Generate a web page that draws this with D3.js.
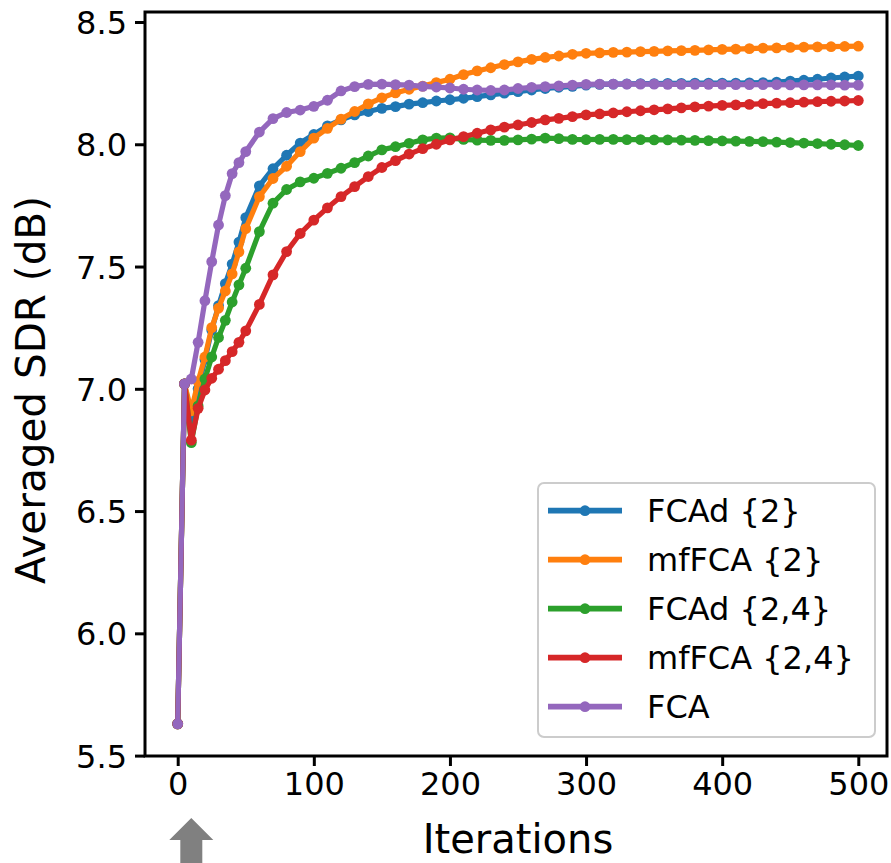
<!DOCTYPE html>
<html><head><meta charset="utf-8">
<script src="https://cdn.jsdelivr.net/npm/d3@7"></script>
<style>body{margin:0;background:#fff}svg{display:block}text{font-family:"DejaVu Sans",sans-serif}</style>
</head><body>
<svg id="c" width="891" height="863"></svg>
<script>
const iterations = [0,5,10,15,20,25,30,35,40,45,50,60,70,80,90,100,110,120,130,140,150,160,170,180,190,200,210,220,230,240,250,260,270,280,290,300,310,320,330,340,350,360,370,380,390,400,410,420,430,440,450,460,470,480,490,500];
const seriesNames = ["FCAd {2}","mfFCA {2}","FCAd {2,4}","mfFCA {2,4}","FCA"];
const fcad2 = [5.63,7.02,6.87,7.0,7.12,7.24,7.34,7.43,7.51,7.60,7.70,7.83,7.90,7.955,8.005,8.04,8.075,8.10,8.12,8.134,8.147,8.154,8.164,8.17,8.177,8.182,8.188,8.195,8.202,8.209,8.215,8.222,8.228,8.233,8.237,8.242,8.245,8.246,8.247,8.248,8.248,8.249,8.249,8.25,8.25,8.25,8.25,8.251,8.252,8.254,8.258,8.262,8.266,8.271,8.275,8.279];
const mffca2 = [5.63,7.02,6.91,7.03,7.13,7.25,7.33,7.40,7.47,7.56,7.655,7.786,7.86,7.91,7.97,8.025,8.065,8.103,8.134,8.165,8.19,8.21,8.225,8.238,8.252,8.266,8.285,8.3,8.313,8.326,8.337,8.347,8.355,8.361,8.368,8.372,8.374,8.376,8.377,8.379,8.38,8.382,8.383,8.384,8.386,8.388,8.389,8.391,8.393,8.394,8.396,8.397,8.398,8.399,8.4,8.401];
const fcad24 = [5.63,7.02,6.78,6.93,7.04,7.13,7.21,7.28,7.355,7.425,7.493,7.643,7.759,7.815,7.846,7.861,7.881,7.902,7.925,7.952,7.977,7.99,8.004,8.018,8.025,8.026,8.02,8.017,8.016,8.016,8.018,8.021,8.025,8.023,8.02,8.019,8.02,8.02,8.019,8.019,8.018,8.018,8.017,8.016,8.015,8.014,8.013,8.012,8.011,8.009,8.007,8.005,8.003,8.0,7.998,7.995];
const mffca24 = [5.63,7.02,6.79,6.92,6.995,7.043,7.08,7.115,7.152,7.19,7.237,7.345,7.466,7.561,7.635,7.69,7.74,7.786,7.827,7.868,7.905,7.933,7.96,7.982,8.0,8.018,8.031,8.045,8.059,8.07,8.079,8.089,8.1,8.106,8.113,8.12,8.124,8.128,8.133,8.137,8.141,8.145,8.149,8.153,8.156,8.159,8.161,8.163,8.166,8.168,8.17,8.172,8.174,8.176,8.177,8.179];
const fca = [5.63,7.02,7.04,7.19,7.36,7.52,7.67,7.79,7.88,7.925,7.97,8.05,8.105,8.13,8.14,8.155,8.18,8.218,8.236,8.245,8.246,8.244,8.242,8.237,8.234,8.23,8.225,8.222,8.22,8.222,8.228,8.233,8.236,8.239,8.242,8.245,8.246,8.246,8.246,8.246,8.246,8.245,8.245,8.245,8.245,8.245,8.244,8.244,8.244,8.244,8.243,8.243,8.243,8.243,8.242,8.242];
const colors = ["#1f77b4","#ff7f0e","#2ca02c","#d62728","#9467bd"];
const xTicks = [0,100,200,300,400,500];
const yTicks = [5.5,6.0,6.5,7.0,7.5,8.0,8.5];
const xLabel = "Iterations", yLabel = "Averaged SDR (dB)";
const arrowAt = 10;

const allSeries = [fcad2, mffca2, fcad24, mffca24, fca];
const svg = d3.select("#c");
const L = 145, R = 887, T = 12, B = 756;
const x = d3.scaleLinear().domain([0,500]).range([177.7,858.3]);
const y = d3.scaleLinear().domain([5.5,8.5]).range([755.6,22]);
const LW = 5.2, MR = 5.4;

const g = svg.append("g");
svg.append("defs").append("clipPath").attr("id","clip").append("rect").attr("x",L).attr("y",T).attr("width",R-L).attr("height",B-T);
const plot = g.append("g").attr("clip-path","url(#clip)");
const line = d3.line().x((d,i)=>x(iterations[i])).y(d=>y(d));
allSeries.forEach((s,k)=>{
  const sg = plot.append("g");
  sg.append("path").datum(s).attr("d",line).attr("fill","none").attr("stroke",colors[k]).attr("stroke-width",LW).attr("stroke-linejoin","round").attr("stroke-linecap","square");
  sg.selectAll("circle").data(s).join("circle").attr("cx",(d,i)=>x(iterations[i])).attr("cy",d=>y(d)).attr("r",MR).attr("fill",colors[k]);
});

// axes
const xa = g.append("g").attr("transform",`translate(0,${B})`).call(d3.axisBottom(x).tickValues(xTicks).tickSize(10).tickPadding(6).tickFormat(d3.format("d")));
const ya = g.append("g").attr("transform",`translate(${L},0)`).call(d3.axisLeft(y).tickValues(yTicks).tickSize(10).tickPadding(8).tickFormat(d3.format(".1f")));
[xa,ya].forEach(a=>{a.select(".domain").remove();a.selectAll(".tick line").attr("stroke","#000").attr("stroke-width",3);a.selectAll(".tick text").attr("fill","#000").style("font-size","32px").style("font-family","DejaVu Sans");});
ya.selectAll(".tick text").attr("dy","0.36em");
g.append("rect").attr("x",L).attr("y",T).attr("width",R-L).attr("height",B-T).attr("fill","none").attr("stroke","#000").attr("stroke-width",3);

g.append("text").attr("x",(L+R)/2+2).attr("y",853).attr("text-anchor","middle").style("font-size","40px").text(xLabel);
g.append("text").attr("transform",`translate(45,${(T+B)/2+6}) rotate(-90)`).attr("text-anchor","middle").style("font-size","40.5px").text(yLabel);

// arrow
const ax = x(arrowAt);
g.append("path").attr("d",`M${ax},818 L${ax+22},840 L${ax+11},840 L${ax+11},863 L${ax-11},863 L${ax-11},840 L${ax-22},840 Z`).attr("fill","#808080");

// legend
const lg = g.append("g");
lg.append("rect").attr("x",538).attr("y",483).attr("width",337).attr("height",254).attr("rx",6).attr("fill","#fff").attr("fill-opacity",0.8).attr("stroke","#cccccc").attr("stroke-width",2);
seriesNames.forEach((n,k)=>{
  const yy = 510.7 + k*49;
  lg.append("line").attr("x1",548).attr("x2",622).attr("y1",yy).attr("y2",yy).attr("stroke",colors[k]).attr("stroke-width",LW+0.6);
  lg.append("circle").attr("cx",585).attr("cy",yy).attr("r",MR).attr("fill",colors[k]);
  lg.append("text").attr("x",647).attr("y",yy).attr("dy","0.36em").style("font-size","32px").text(n);
});
</script>
</body></html>
